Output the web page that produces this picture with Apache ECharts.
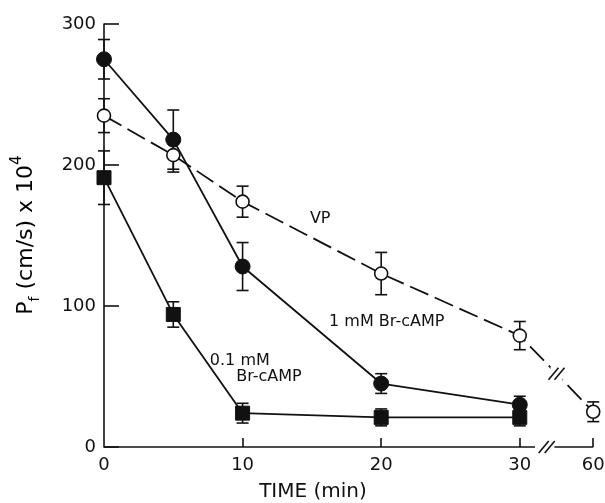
<!DOCTYPE html>
<html>
<head>
<meta charset="utf-8">
<script src="https://cdn.jsdelivr.net/npm/echarts@6/dist/echarts.min.js"></script>
<style>
  html, body { margin: 0; padding: 0; background: #fff; }
  #chart { width: 605px; height: 503px; }
</style>
</head>
<body>
<div id="chart"></div>
<script>
(function () {
    // time points (min)
    var vpTimes = [0, 5, 10, 20, 30, 60];
    var vpMean = [235, 207, 174, 123, 79, 25];
    var vpErr = [12, 12, 11, 15, 10, 7];

    var camp1Times = [0, 5, 10, 20, 30];
    var camp1Mean = [275, 218, 128, 45, 30];
    var camp1Err = [14, 21, 17, 7, 6];

    var camp01Times = [0, 5, 10, 20, 30];
    var camp01Mean = [191, 94, 24, 21, 21];
    var camp01Err = [19, 9, 7, 6, 6];

    var xTickLabels = ['0', '10', '20', '30', '60'];
    var xTickTimes = [0, 10, 20, 30, 60];

    // axis has a break between 30 and 60 min
    var BREAK_POS = 35.3;
    function toAxis(t) {
        return t <= 30 ? t : BREAK_POS;
    }

    var font = 'DejaVu Sans';
    var black = '#111';

    function pairs(times, vals) {
        var out = [];
        for (var i = 0; i < times.length; i++) {
            out.push([toAxis(times[i]), vals[i]]);
        }
        return out;
    }

    function errData(times, vals, errs) {
        var out = [];
        for (var i = 0; i < times.length; i++) {
            out.push([toAxis(times[i]), vals[i] - errs[i], vals[i] + errs[i]]);
        }
        return out;
    }

    function errSeries(data) {
        return {
            type: 'custom',
            data: data,
            z: 1,
            silent: true,
            renderItem: function (params, api) {
                var x = api.value(0);
                var lo = api.coord([x, api.value(1)]);
                var hi = api.coord([x, api.value(2)]);
                var w = 6;
                var st = {stroke: black, lineWidth: 1.6};
                return {
                    type: 'group',
                    children: [
                        {type: 'line', shape: {x1: lo[0], y1: lo[1], x2: hi[0], y2: hi[1]}, style: st},
                        {type: 'line', shape: {x1: lo[0] - w, y1: lo[1], x2: lo[0] + w, y2: lo[1]}, style: st},
                        {type: 'line', shape: {x1: hi[0] - w, y1: hi[1], x2: hi[0] + w, y2: hi[1]}, style: st}
                    ]
                };
            }
        };
    }

    var chart = echarts.init(document.getElementById('chart'));

    var option = {
        animation: false,
        backgroundColor: '#fff',
        grid: {left: 104, right: 9, top: 24, bottom: 56, outerBoundsMode: 'none', containLabel: false},
        xAxis: {
            type: 'value',
            min: 0,
            max: 35.5,
            splitLine: {show: false},
            axisLine: {show: false},
            axisTick: {
                show: true,
                inside: true,
                length: 9,
                customValues: [10, 20, 30, BREAK_POS],
                lineStyle: {color: black, width: 1.6}
            },
            axisLabel: {
                customValues: xTickTimes.map(toAxis),
                formatter: function (v) {
                    for (var i = 0; i < xTickTimes.length; i++) {
                        if (Math.abs(toAxis(xTickTimes[i]) - v) < 1e-6) return xTickLabels[i];
                    }
                    return '';
                },
                color: black,
                fontFamily: font,
                fontSize: 18,
                margin: 9
            }
        },
        yAxis: {
            type: 'value',
            min: 0,
            max: 300,
            interval: 100,
            splitLine: {show: false},
            axisLine: {show: true, lineStyle: {color: black, width: 1.6}},
            axisTick: {show: true, inside: true, length: 15, lineStyle: {color: black, width: 1.6}},
            axisLabel: {color: black, fontFamily: font, fontSize: 18, margin: 8}
        },
        series: [
            errSeries(errData(vpTimes, vpMean, vpErr)),
            errSeries(errData(camp1Times, camp1Mean, camp1Err)),
            errSeries(errData(camp01Times, camp01Mean, camp01Err)),
            {
                name: 'VP',
                type: 'line',
                data: pairs(vpTimes, vpMean),
                symbol: 'circle',
                symbolSize: 13,
                z: 3,
                lineStyle: {color: black, width: 1.8, type: [20, 7]},
                itemStyle: {color: '#fff', borderColor: black, borderWidth: 1.6}
            },
            {
                name: '1 mM Br-cAMP',
                type: 'line',
                data: pairs(camp1Times, camp1Mean),
                symbol: 'circle',
                symbolSize: 15,
                z: 3,
                lineStyle: {color: black, width: 1.8},
                itemStyle: {color: black, borderColor: black}
            },
            {
                name: '0.1 mM Br-cAMP',
                type: 'line',
                data: pairs(camp01Times, camp01Mean),
                symbol: 'rect',
                symbolSize: 14,
                z: 3,
                lineStyle: {color: black, width: 1.8},
                itemStyle: {color: black, borderColor: black}
            }
        ]
    };

    chart.setOption(option);

    // broken x axis, break marks, annotations
    function px(x, y) {
        return chart.convertToPixel({gridIndex: 0}, [x, y]);
    }
    var p0 = px(0, 0), pA = px(31.1, 0), pB = px(32.5, 0), p60 = px(BREAK_POS, 0);
    var st = {stroke: black, lineWidth: 1.6};
    var g = [];
    g.push({type: 'line', shape: {x1: p0[0], y1: p0[1], x2: pA[0], y2: pA[1]}, style: st});
    g.push({type: 'line', shape: {x1: pB[0], y1: pB[1], x2: p60[0], y2: p60[1]}, style: st});
    // axis break slashes
    var mid = (pA[0] + pB[0]) / 2 + 2;
    [-3, 3].forEach(function (d) {
        g.push({type: 'line', shape: {x1: mid + d - 5, y1: p0[1] + 6, x2: mid + d + 5, y2: p0[1] - 6}, style: st});
    });
    // break slashes on the VP line between 30 and 60
    var v30 = px(toAxis(30), vpMean[4]), v60 = px(toAxis(60), vpMean[5]);
    var mx = (v30[0] + v60[0]) / 2, my = (v30[1] + v60[1]) / 2;
    g.push({type: 'rect', shape: {x: mx - 6, y: my - 7, width: 12, height: 14}, style: {fill: '#fff'}, z: 10});
    [-3, 3].forEach(function (d) {
        g.push({type: 'line', shape: {x1: mx + d - 5, y1: my + 6, x2: mx + d + 5, y2: my - 6}, style: st, z: 11});
    });

    var notes = [
        {text: 'VP', t: 15.6, v: 162},
        {text: '1 mM Br-cAMP', t: 20.4, v: 89},
        {text: '0.1 mM', t: 9.8, v: 61},
        {text: 'Br-cAMP', t: 11.9, v: 50}
    ];
    notes.forEach(function (n) {
        var p = px(n.t, n.v);
        g.push({
            type: 'text', x: p[0], y: p[1], z: 12,
            style: {text: n.text, fill: black, font: '16px "' + font + '"', textAlign: 'center', textVerticalAlign: 'middle'}
        });
    });

    // axis titles
    g.push({
        type: 'text', x: 26, y: 235, rotation: Math.PI / 2, z: 12,
        style: {
            text: '{n|P}{s|f}{n| (cm/s) x 10}{u|4}',
            textAlign: 'center', textVerticalAlign: 'middle',
            rich: {
                n: {fontFamily: font, fontSize: 22, color: black, lineHeight: 32, verticalAlign: 'middle'},
                s: {fontFamily: font, fontSize: 14, color: black, lineHeight: 32, verticalAlign: 'bottom'},
                u: {fontFamily: font, fontSize: 15, color: black, lineHeight: 32, verticalAlign: 'top'}
            }
        }
    });
    g.push({
        type: 'text', x: 313, y: 492, z: 12,
        style: {text: 'TIME (min)', fill: black, font: '20px "' + font + '"', textAlign: 'center', textVerticalAlign: 'middle'}
    });

    chart.setOption({graphic: g});
})();
</script>
</body>
</html>
